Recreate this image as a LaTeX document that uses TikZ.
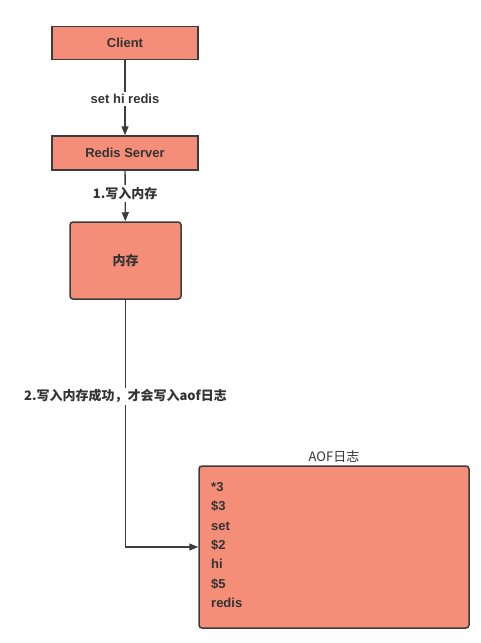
\documentclass[tikz,border=0pt]{standalone}
\usepackage{fontspec}
\setmainfont{Liberation Sans}
\newfontfamily\cjk{Noto Sans CJK SC}
\usetikzlibrary{arrows.meta}
\definecolor{boxfill}{HTML}{F48E78}
\definecolor{boxline}{HTML}{3C3C3C}
\definecolor{txt}{HTML}{333333}
\begin{document}
\begin{tikzpicture}[x=1pt,y=-1pt,
  box/.style={draw=boxline,line width=1.5pt,fill=boxfill,text=txt,font=\fontsize{13}{15}\selectfont\bfseries},
  conn/.style={draw=boxline,line width=1.3pt,-{Triangle[length=9pt,width=7pt]}},
  lbl/.style={fill=white,text=txt,inner sep=2pt,font=\fontsize{13}{15}\selectfont\bfseries}]
\useasboundingbox (0,0) rectangle (481,643);
\node[box,minimum width=146pt,minimum height=33pt] (client) at (125,43) {Client};
\node[box,minimum width=146pt,minimum height=34pt] (server) at (125,153) {Redis Server};
\node[box,rounded corners=3pt,minimum width=111pt,minimum height=77pt] (mem) at (125.5,260.5) {\cjk 内存};
\node[box,rounded corners=3pt,minimum width=270pt,minimum height=162pt,
  label={[text=txt,font=\cjk\fontsize{13}{15}\selectfont,yshift=-1pt]above:AOF日志}] (aof) at (334,547) {};
\node[anchor=north west,text=txt,font=\fontsize{13}{19.4}\selectfont\bfseries,align=left,inner sep=0pt] (aoftxt) at (211,482)
  {*3\\\$3\\set\\\$2\\hi\\\$5\\redis};
\coordinate (bend) at (mem.south |- aof.west);
\draw[conn] (client) -- node[lbl,pos=0.52] {set hi redis} (server);
\draw[conn] (server) -- node[lbl,pos=0.45] {\cjk 1.写入内存} (mem);
\draw[conn] (mem) -- node[lbl,pos=0.39] {\cjk 2.写入内存成功，才会写入aof日志} (bend) -- (aof.west);
\end{tikzpicture}
\end{document}
